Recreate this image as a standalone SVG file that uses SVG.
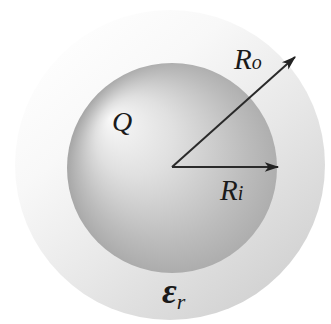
<svg xmlns="http://www.w3.org/2000/svg" width="331" height="324" viewBox="0 0 331 324">
<defs>
<linearGradient id="outerG" x1="0.1" y1="0.05" x2="0.85" y2="0.95">
<stop offset="0" stop-color="#ffffff"/>
<stop offset="0.3" stop-color="#f8f8f8"/>
<stop offset="0.6" stop-color="#e8e8e8"/>
<stop offset="1" stop-color="#d0d0d0"/>
</linearGradient>
<radialGradient id="innerG" cx="180" cy="170" r="112" fx="110" fy="118" gradientUnits="userSpaceOnUse">
<stop offset="0" stop-color="#f8f8f8"/>
<stop offset="0.35" stop-color="#e0e0e0"/>
<stop offset="0.75" stop-color="#bcbcbc"/>
<stop offset="1" stop-color="#a8a8a8"/>
</radialGradient>
<marker id="arr" viewBox="0 0 12 10" refX="11" refY="5" markerWidth="17" markerHeight="12" markerUnits="userSpaceOnUse" orient="auto">
<path d="M0,1 L12,5 L0,9 L3,5 Z" fill="#222"/>
</marker>
<style>
.lbl{font-family:"Liberation Serif","DejaVu Serif",serif;font-style:italic;fill:#1a1a1a}
.arrow{stroke:#2a2a2a;stroke-width:2;fill:none;marker-end:url(#arr)}
</style>
</defs>
<rect width="331" height="324" fill="#ffffff"/>
<g id="outer">
<circle cx="170" cy="165" r="155" fill="url(#outerG)"/>
</g>
<g id="inner">
<circle cx="172" cy="168" r="105" fill="url(#innerG)"/>
</g>
<g id="connectors">
<line class="arrow" x1="172" y1="167" x2="295" y2="57"/>
<line class="arrow" x1="172" y1="167" x2="278" y2="167"/>
</g>
<g id="labels">
<text class="lbl" x="234" y="69" font-size="29">R<tspan font-size="20">o</tspan></text>
<text class="lbl" x="220" y="200" font-size="29">R<tspan font-size="20">i</tspan></text>
<text class="lbl" x="112" y="131" font-size="28">Q</text>
<text class="lbl" x="162" y="303" font-size="36" font-weight="bold">ε<tspan font-size="22" font-weight="normal" dy="6">r</tspan></text>
</g>
</svg>
